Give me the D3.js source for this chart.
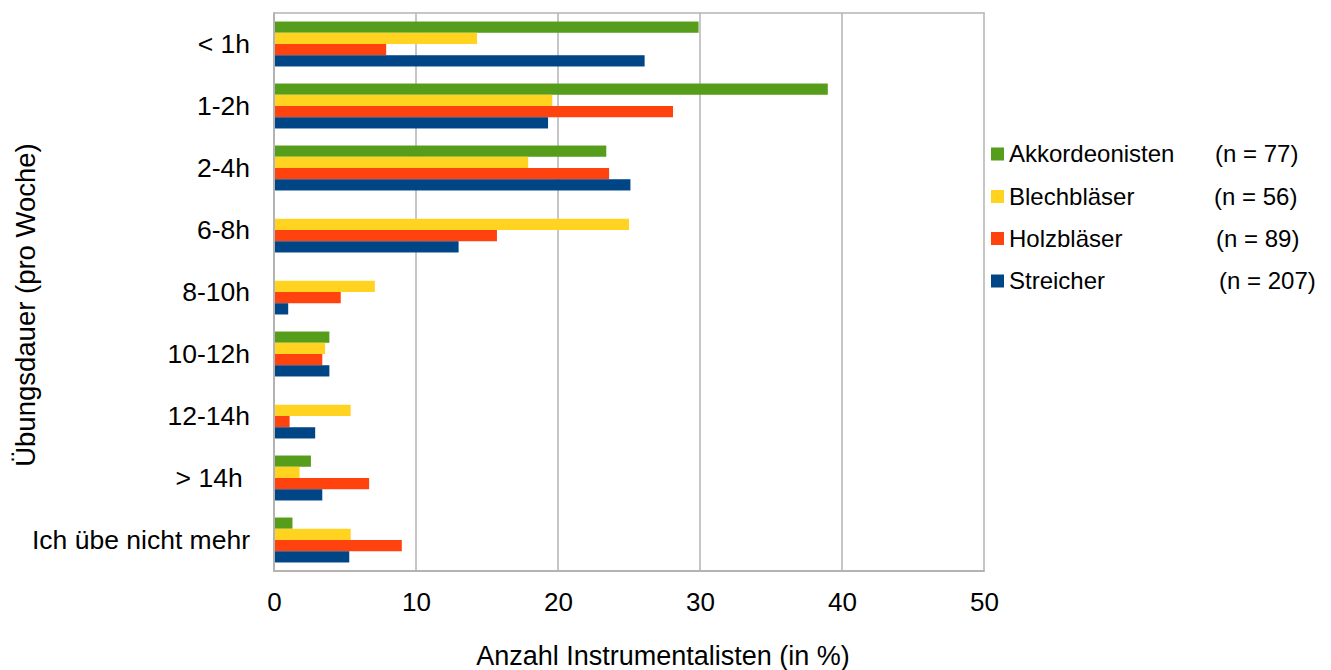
<!DOCTYPE html>
<html><head><meta charset="utf-8">
<script src="https://cdn.jsdelivr.net/npm/d3@7"></script>
<style>
html,body{margin:0;padding:0;background:#fff;}
text{font-family:"Liberation Sans",Arial,sans-serif;fill:#000;}
</style></head>
<body>
<svg id="chart" width="1331" height="670"></svg>
<script>
const categories = ["< 1h","1-2h","2-4h","6-8h","8-10h","10-12h","12-14h","> 14h ","Ich übe nicht mehr"];
const seriesNames = ["Akkordeonisten","Blechbläser","Holzbläser","Streicher"];
const seriesN = ["(n = 77)","(n = 56)","(n = 89)","(n = 207)"];
const colors = ["#579d1c","#ffd320","#ff420e","#004586"];
const akkordeonisten = [29.9, 39.0, 23.4, 0, 0, 3.9, 0, 2.6, 1.3];
const blechblaeser   = [14.3, 19.6, 17.9, 25.0, 7.1, 3.6, 5.4, 1.8, 5.4];
const holzblaeser    = [7.9, 28.1, 23.6, 15.7, 4.7, 3.4, 1.1, 6.7, 9.0];
const streicher      = [26.1, 19.3, 25.1, 13.0, 1.0, 3.9, 2.9, 3.4, 5.3];
const xTicks = [0,10,20,30,40,50];
const seriesValues = [akkordeonisten, blechblaeser, holzblaeser, streicher];

const svg = d3.select("#chart");
const L = 274, R = 984, T = 13, B = 571;
const x = d3.scaleLinear().domain([0,50]).range([L,R]);
const y = d3.scaleBand().domain(categories).range([T,B]).paddingInner(0.275).paddingOuter(0.1375);
const ys = d3.scaleBand().domain(seriesNames).range([0,y.bandwidth()]);

// gridlines
svg.append("g").selectAll("line").data(xTicks.slice(1)).join("line")
  .attr("x1",d=>x(d)).attr("x2",d=>x(d)).attr("y1",T).attr("y2",B)
  .attr("stroke","#b3b3b3").attr("stroke-width",1.5);
// top frame
svg.append("line").attr("x1",L).attr("x2",R+0.75).attr("y1",T).attr("y2",T)
  .attr("stroke","#b3b3b3").attr("stroke-width",1.5);

// bars
const data = [];
categories.forEach((c,i)=>seriesNames.forEach((s,j)=>data.push({c,s,j,v:seriesValues[j][i]})));
svg.append("g").selectAll("rect").data(data.filter(d=>d.v>0)).join("rect")
  .attr("x",x(0)+1).attr("y",d=>y(d.c)+ys(d.s))
  .attr("width",d=>x(d.v)-x(0)-1).attr("height",ys.bandwidth())
  .attr("fill",d=>colors[d.j]);

// axes lines (left & bottom)
svg.append("line").attr("x1",L).attr("x2",L).attr("y1",T-0.75).attr("y2",B+1)
  .attr("stroke","#b3b3b3").attr("stroke-width",2);
svg.append("line").attr("x1",L-1).attr("x2",R+0.75).attr("y1",B).attr("y2",B)
  .attr("stroke","#b3b3b3").attr("stroke-width",2);

// x axis tick labels
const xAxis = d3.axisBottom(x).tickValues(xTicks).tickSize(0).tickPadding(0);
const gx = svg.append("g").attr("transform",`translate(0,${B})`).call(xAxis);
gx.select(".domain").remove();
gx.selectAll("text").attr("font-size",26).attr("dy",null).attr("y",40)
  .attr("font-family","Liberation Sans, Arial, sans-serif").attr("fill","#000");

// y axis category labels
const yAxis = d3.axisLeft(y).tickSize(0).tickPadding(0);
const gy = svg.append("g").attr("transform",`translate(250,0)`).call(yAxis);
gy.select(".domain").remove();
gy.selectAll("text").attr("font-size",26.5).attr("x",0).attr("dy","0.35em")
  .style("white-space","pre")
  .attr("font-family","Liberation Sans, Arial, sans-serif").attr("fill","#000");

// axis titles
svg.append("text").attr("x",663).attr("y",665).attr("text-anchor","middle")
  .attr("font-size",27).text("Anzahl Instrumentalisten (in %)");
svg.append("text").attr("transform","translate(35,305) rotate(-90)").attr("text-anchor","middle")
  .attr("font-size",27.5).text("Übungsdauer (pro Woche)");

// legend
const legY = [154, 196.5, 238.5, 281];
const nX = [1215, 1214, 1216, 1219];
const leg = svg.append("g").selectAll("g").data(seriesNames).join("g")
  .attr("transform",(d,i)=>`translate(0,${legY[i]})`);
leg.append("rect").attr("x",991).attr("y",-6.5).attr("width",13).attr("height",13)
  .attr("fill",(d,i)=>colors[i]);
leg.append("text").attr("x",1009).attr("dy","0.35em").attr("font-size",24).text(d=>d);
leg.append("text").attr("x",(d,i)=>nX[i]).attr("dy","0.35em").attr("font-size",24).text((d,i)=>seriesN[i]);
</script>
</body></html>
